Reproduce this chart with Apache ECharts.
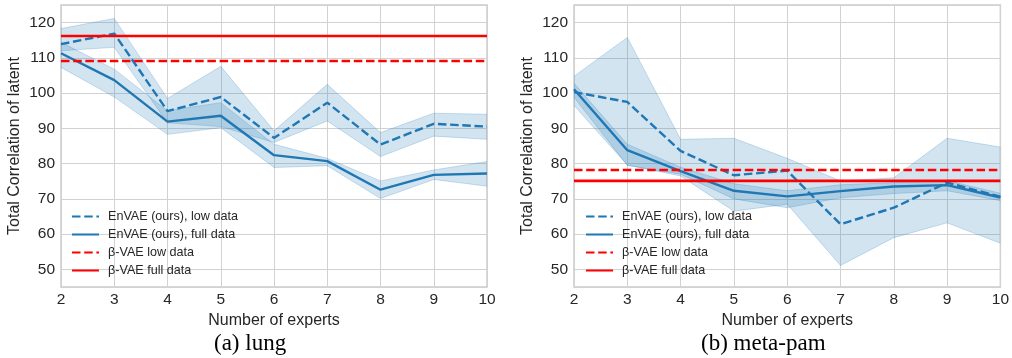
<!DOCTYPE html>
<html>
<head>
<meta charset="utf-8">
<script src="https://cdn.jsdelivr.net/npm/echarts@6/dist/echarts.min.js"></script>
<style>
  html, body { margin: 0; padding: 0; background: #fff; }
  #chart { width: 1012px; height: 358px; }
</style>
</head>
<body>
<div id="chart"></div>
<script>
// number of experts (x axis)
const experts = ['2', '3', '4', '5', '6', '7', '8', '9', '10'];

// (a) lung
const lungLowMean = [113.9, 116.9, 94.9, 98.9, 87.3, 97.3, 85.4, 91.3, 90.5];
const lungLowLo   = [112.0, 113.0, 91.6, 90.5, 86.0, 92.1, 82.0, 87.8, 86.9];
const lungLowHi   = [118.3, 121.2, 98.5, 107.6, 89.3, 102.5, 88.8, 94.3, 94.0];
const lungFullMean = [111.3, 103.7, 91.9, 93.6, 82.4, 80.7, 72.6, 76.8, 77.2];
const lungFullLo   = [107.3, 98.9, 88.3, 90.2, 78.9, 79.4, 70.1, 75.5, 73.6];
const lungFullHi   = [114.4, 106.8, 95.0, 97.3, 85.5, 81.5, 75.1, 78.2, 80.6];
const lungBetaLow = 109.1;
const lungBetaFull = 116.2;

// (b) meta-pam
const pamLowMean = [100.3, 97.5, 83.6, 76.7, 78.0, 62.8, 67.5, 74.6, 70.6];
const pamLowLo   = [96.5, 79.6, 76.5, 66.5, 68.5, 51.1, 59.0, 63.2, 57.4];
const pamLowHi   = [104.8, 115.8, 86.9, 87.2, 81.5, 75.1, 76.0, 87.2, 84.7];
const pamFullMean = [101.1, 83.8, 77.9, 72.3, 70.7, 72.2, 73.5, 73.9, 70.4];
const pamFullLo   = [98.8, 79.5, 77.0, 70.0, 67.5, 70.3, 71.5, 72.3, 69.5];
const pamFullHi   = [102.8, 85.5, 79.0, 74.3, 72.3, 74.0, 74.6, 75.2, 71.6];
const pamBetaLow = 78.2;
const pamBetaFull = 75.1;

const names = ['EnVAE (ours), low data', 'EnVAE (ours), full data', 'β-VAE low data', 'β-VAE full data'];

const BLUE = '#1f77b4';
const RED = '#ff0000';
const TXT = '#262626';
const SANS = 'Liberation Sans, Arial, sans-serif';

// fill_between style band: transparent base + stacked difference
function band(id, idx, lo, hi) {
  const edge = { color: 'rgba(31,119,180,0.22)', width: 1 };
  return [{
    name: id + '-lo', type: 'line', xAxisIndex: idx, yAxisIndex: idx,
    stack: id, symbol: 'none', silent: true, z: 1,
    lineStyle: edge, data: lo
  }, {
    name: id + '-hi', type: 'line', xAxisIndex: idx, yAxisIndex: idx,
    stack: id, symbol: 'none', silent: true, z: 1,
    lineStyle: edge,
    areaStyle: { color: BLUE, opacity: 0.2 },
    data: hi.map((h, i) => +(h - lo[i]).toFixed(2))
  }];
}

function line(name, idx, vals, color, dashed, w) {
  return {
    name: name, type: 'line', xAxisIndex: idx, yAxisIndex: idx,
    symbol: 'none', z: color === RED ? 4 : 3,
    lineStyle: { color: color, width: w, type: dashed ? [8.5, 3.7] : 'solid' },
    itemStyle: { color: color },
    data: vals
  };
}

function xAxis(idx) {
  return {
    type: 'category', gridIndex: idx, data: experts, boundaryGap: false,
    name: 'Number of experts', nameLocation: 'middle', nameGap: 25,
    nameTextStyle: { fontFamily: SANS, fontSize: 16, color: TXT },
    axisLine: { show: false }, axisTick: { show: false },
    axisLabel: { fontFamily: SANS, fontSize: 15.5, color: TXT, margin: 5 },
    splitLine: { show: true, lineStyle: { color: '#d2d2d2', width: 1 } }
  };
}

function yAxis(idx) {
  return {
    type: 'value', gridIndex: idx, min: 45, max: 125, splitNumber: 8,
    name: 'Total Correlation of latent', nameLocation: 'middle', nameGap: 38,
    nameTextStyle: { fontFamily: SANS, fontSize: 16, color: TXT },
    axisLine: { show: false }, axisTick: { show: false },
    axisLabel: { fontFamily: SANS, fontSize: 15.5, color: TXT, margin: 6, showMinLabel: false, showMaxLabel: false },
    splitLine: { lineStyle: { color: '#d2d2d2', width: 1 } }
  };
}

function legend(left) {
  return {
    data: names, orient: 'vertical', left: left, top: 205,
    itemWidth: 27, itemHeight: 12, itemGap: 5,
    itemStyle: { opacity: 0, borderWidth: 0 },
    textStyle: { fontFamily: SANS, fontSize: 12.6, color: TXT, padding: [0, 0, 0, 4] }
  };
}

const option = {
  animation: false,
  backgroundColor: '#fff',
  grid: [
    { left: 61, top: 5, width: 426, height: 282, show: true, borderColor: '#cccccc', borderWidth: 1.5 },
    { left: 574, top: 5, width: 427, height: 282, show: true, borderColor: '#cccccc', borderWidth: 1.5 }
  ],
  xAxis: [xAxis(0), xAxis(1)],
  yAxis: [yAxis(0), yAxis(1)],
  legend: [legend(66), legend(580)],
  series: [
    ...band('lungLow', 0, lungLowLo, lungLowHi),
    ...band('lungFull', 0, lungFullLo, lungFullHi),
    line(names[0], 0, lungLowMean, BLUE, true, 2.4),
    line(names[1], 0, lungFullMean, BLUE, false, 2.4),
    line(names[2], 0, experts.map(() => lungBetaLow), RED, true, 2.6),
    line(names[3], 0, experts.map(() => lungBetaFull), RED, false, 2.6),
    ...band('pamLow', 1, pamLowLo, pamLowHi),
    ...band('pamFull', 1, pamFullLo, pamFullHi),
    line(names[0], 1, pamLowMean, BLUE, true, 2.4),
    line(names[1], 1, pamFullMean, BLUE, false, 2.4),
    line(names[2], 1, experts.map(() => pamBetaLow), RED, true, 2.6),
    line(names[3], 1, experts.map(() => pamBetaFull), RED, false, 2.6)
  ],
  graphic: [
    { type: 'text', left: 214, top: 332, style: { text: '(a) lung', font: '23px "Liberation Serif", "Times New Roman", serif', fill: '#000' } },
    { type: 'text', left: 701, top: 332, style: { text: '(b) meta-pam', font: '23px "Liberation Serif", "Times New Roman", serif', fill: '#000' } }
  ]
};

let myChart = echarts.init(document.getElementById('chart'));
myChart.setOption(option);
</script>
</body>
</html>
